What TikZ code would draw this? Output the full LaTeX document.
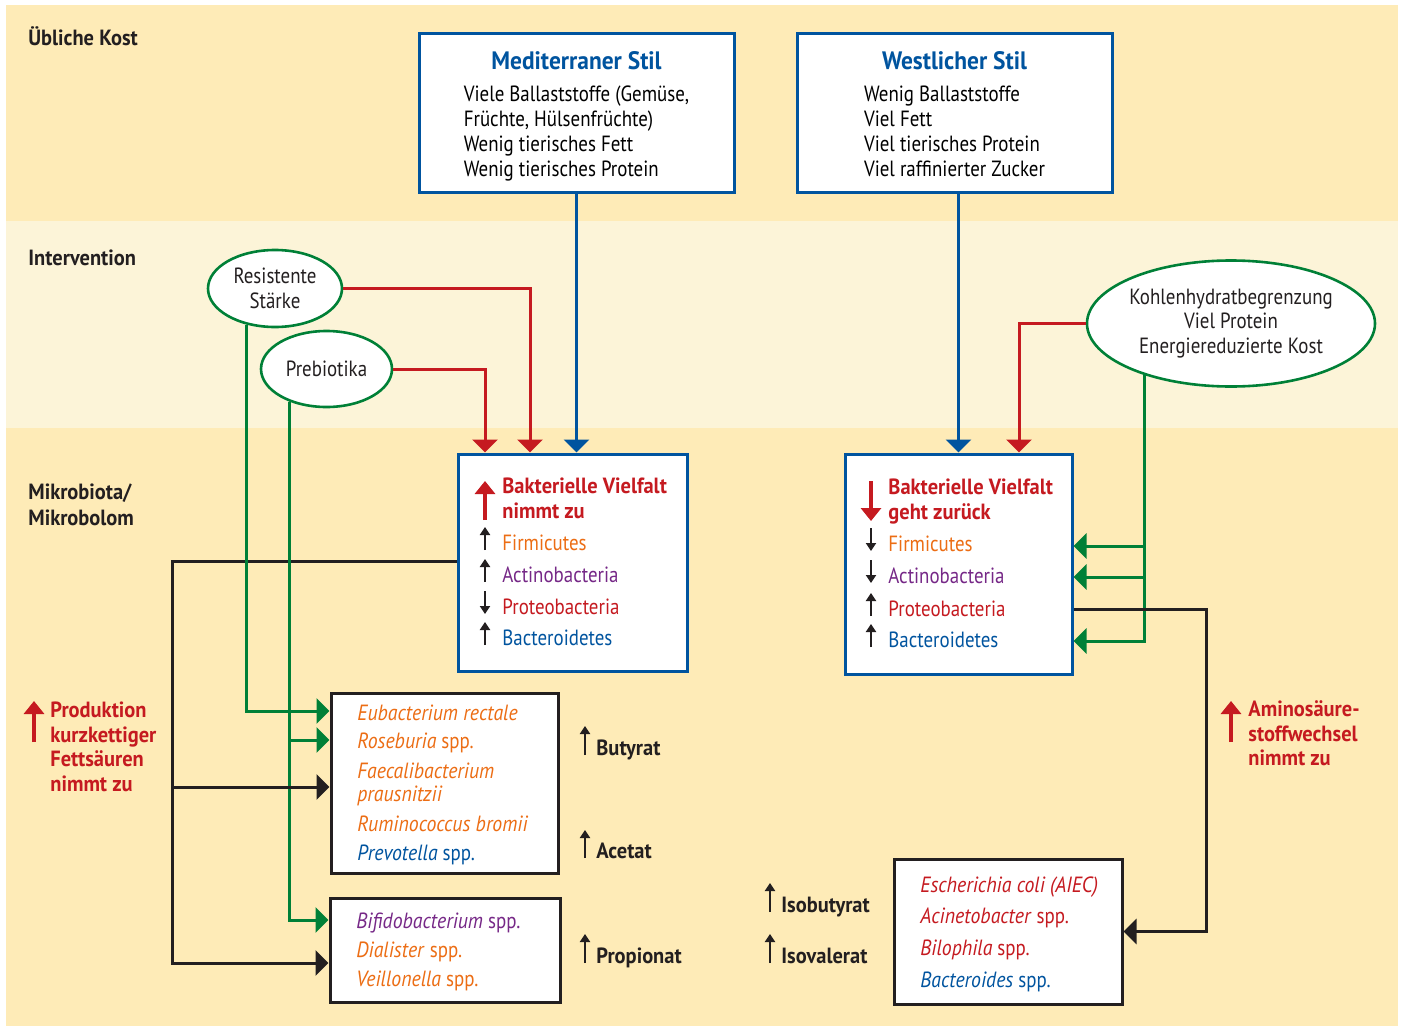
\documentclass[tikz,border=0pt]{standalone}
\usepackage{fontspec}
\setmainfont{PT Sans}[
  UprightFeatures={FakeStretch=0.86},
  BoldFeatures={FakeStretch=0.93},
  ItalicFeatures={FakeStretch=0.9},
  BoldItalicFeatures={FakeStretch=0.93}]
\usepackage{tikz}
\usetikzlibrary{positioning,shapes.geometric,arrows.meta}

\definecolor{kblue}{RGB}{0,84,159}
\definecolor{kred}{RGB}{197,26,32}
\definecolor{korange}{RGB}{236,109,20}
\definecolor{kpurple}{RGB}{118,40,135}
\definecolor{kgreen}{RGB}{0,128,55}
\definecolor{kband}{RGB}{254,235,183}
\definecolor{klight}{RGB}{252,244,216}
\definecolor{ktext}{RGB}{35,31,32}

\begin{document}
\begin{tikzpicture}[x=0.5pt,y=-0.5pt,
font=\fontsize{11}{12.4}\selectfont,
box/.style={draw=kblue,line width=1.5pt,fill=white,inner sep=0pt},
sbox/.style={draw=ktext,line width=1.5pt,fill=white,inner sep=0pt},
oval/.style={ellipse,draw=kgreen,line width=1.3pt,fill=white,inner sep=0pt,align=center,text=ktext},
txt/.style={anchor=base west,inner sep=0pt,text=ktext},
hot/.style={txt,text=kred,font=\fontsize{11}{12.4}\selectfont\bfseries},
sect/.style={txt,font=\fontsize{11}{12.4}\selectfont\bfseries},
conn/.style={line width=1.5pt,-{Triangle[length=6.5pt,width=12.5pt]}},
trend/.style={line width=1.1pt,ktext,-{Triangle[length=4pt,width=5pt]}},
bigtrend/.style={line width=2.2pt,kred,-{Triangle[length=6.5pt,width=10pt]}}]

\useasboundingbox (0,0) rectangle (1403,1028);
\fill[white] (0,0) rectangle (1403,1028);
\fill[kband] (6,5) rectangle (1398,221);
\fill[klight] (6,221) rectangle (1398,428);
\fill[kband] (6,428) rectangle (1398,1026);

% row labels
\node (lkost) [sect] at (28,46) {Übliche Kost};
\node (linter) [sect] at (28,265) {Intervention};
\node (lmikro) [sect] at (28,499) {Mikrobiota/};
\node (lmikro2) [sect] at (28,525) {Mikrobolom};

% diets
\node (med) [box,minimum width=157.5pt,minimum height=79.5pt] at (576.5,112.5) {%
\begin{tabular}{@{}l@{}}
\multicolumn{1}{@{}c@{}}{\rule{0pt}{14pt}\textcolor{kblue}{\fontsize{12.6}{15}\selectfont\bfseries Mediterraner Stil}}\\[4pt]
Viele Ballaststoffe (Gemüse,\\
Früchte, Hülsenfrüchte)\\
Wenig tierisches Fett\\
Wenig tierisches Protein
\end{tabular}};
\node (west) [box,minimum width=157.5pt,minimum height=79.5pt] at (954.5,112.5) {%
\begin{tabular}{@{}l@{}}
\multicolumn{1}{@{}c@{}}{\rule{0pt}{14pt}\textcolor{kblue}{\fontsize{12.6}{15}\selectfont\bfseries Westlicher Stil}}\\[4pt]
Wenig Ballaststoffe\\
Viel Fett\\
Viel tierisches Protein\\
Viel raffinierter Zucker
\end{tabular}};

% interventions
\node (resist) [oval,minimum width=67pt,minimum height=38.5pt] at (275,288.5) {Resistente\\Stärke};
\node (prebio) [oval,minimum width=65.5pt,minimum height=38pt] at (326.5,369) {Prebiotika};
\node (kohlen) [oval,minimum width=144pt,minimum height=63pt] at (1231,323.5)
  {Kohlenhydratbegrenzung\\Viel Protein\\Energiereduzierte Kost};

% microbiota
\node (upbox) [box,minimum width=114.5pt,minimum height=108.5pt] at (572.5,562.5) {};
\node (dnbox) [box,minimum width=113.5pt,minimum height=110pt] at (958.5,564) {};
\node (butbox) [sbox,minimum width=113.5pt,minimum height=90pt] at (444.5,783) {};
\node (propbox) [sbox,minimum width=115pt,minimum height=52pt] at (445,950) {};
\node (aminobox) [sbox,minimum width=114pt,minimum height=72.5pt] at (1008,931.5) {};

\node (upt1) [hot] at (502,493) {Bakterielle Vielfalt};
\node (upt2) [hot] at (502,518) {nimmt zu};
\node (upf) [txt,text=korange] at (502,550) {Firmicutes};
\node (upa) [txt,text=kpurple] at (502,582) {Actinobacteria};
\node (upp) [txt,text=kred] at (502,614) {Proteobacteria};
\node (upb) [txt,text=kblue] at (502,645) {Bacteroidetes};
\draw[bigtrend] (485,520) -- (485,481);
\draw[trend] (485,550) -- (485,527);
\draw[trend] (485,582) -- (485,559);
\draw[trend] (485,591) -- (485,614);
\draw[trend] (485,645) -- (485,622);

\node (dnt1) [hot] at (888,494) {Bakterielle Vielfalt};
\node (dnt2) [hot] at (888,519) {geht zurück};
\node (dnf) [txt,text=korange] at (888,551) {Firmicutes};
\node (dna) [txt,text=kpurple] at (888,583) {Actinobacteria};
\node (dnp) [txt,text=kred] at (888,616) {Proteobacteria};
\node (dnb) [txt,text=kblue] at (888,647) {Bacteroidetes};
\draw[bigtrend] (871,481) -- (871,521);
\draw[trend] (871,528) -- (871,551);
\draw[trend] (871,560) -- (871,583);
\draw[trend] (871,616) -- (871,593);
\draw[trend] (871,647) -- (871,624);

\node (eub) [txt,text=korange] at (357,720) {\itshape Eubacterium rectale};
\node (ros) [txt,text=korange] at (357,748) {\textit{Roseburia} spp.};
\node (fae) [txt,text=korange] at (357,778) {\itshape Faecalibacterium};
\node (fae2) [txt,text=korange] at (357,801) {\itshape prausnitzii};
\node (rum) [txt,text=korange] at (357,831) {\itshape Ruminococcus bromii};
\node (pre) [txt,text=kblue] at (357,860) {\textit{Prevotella} spp.};

\node (bif) [txt,text=kpurple] at (356,928) {\textit{Bifidobacterium} spp.};
\node (dia) [txt,text=korange] at (356,957) {\textit{Dialister} spp.};
\node (vei) [txt,text=korange] at (356,986) {\textit{Veillonella} spp.};

\node (esc) [txt,text=kred] at (920,892) {\itshape Escherichia coli (AIEC)};
\node (aci) [txt,text=kred] at (920,923) {\textit{Acinetobacter} spp.};
\node (bil) [txt,text=kred] at (920,955) {\textit{Bilophila} spp.};
\node (bac) [txt,text=kblue] at (920,987) {\textit{Bacteroides} spp.};

% products
\node (buty) [sect] at (596,755) {Butyrat};
\node (acet) [sect] at (596,858) {Acetat};
\node (prop) [sect] at (596,963) {Propionat};
\node (isob) [sect] at (781,912) {Isobutyrat};
\node (isov) [sect] at (781,963) {Isovalerat};
\draw[trend] (585,755) -- (585,726);
\draw[trend] (585,858) -- (585,830);
\draw[trend] (585,963) -- (585,934);
\draw[trend] (770,912) -- (770,883);
\draw[trend] (770,963) -- (770,934);

\node (prod1) [hot] at (50,717) {Produktion};
\node (prod2) [hot] at (50,742) {kurzkettiger};
\node (prod3) [hot] at (50,766) {Fettsäuren};
\node (prod4) [hot] at (50,791) {nimmt zu};
\draw[bigtrend,line width=2pt] (34,742) -- (34,701);
\node (amino1) [hot] at (1248,716) {Aminosäure-};
\node (amino2) [hot] at (1248,741) {stoffwechsel};
\node (amino3) [hot] at (1248,765) {nimmt zu};
\draw[bigtrend,line width=2pt] (1231,742) -- (1231,701);

% connectors
\coordinate (b1) at ([yshift=36pt]butbox.west);
\coordinate (b2) at ([yshift=21.5pt]butbox.west);
\coordinate (b3) at ([yshift=-2pt]butbox.west);
\coordinate (p1) at ([yshift=15pt]propbox.west);
\coordinate (p2) at ([yshift=-6.5pt]propbox.west);
\coordinate (d1) at ([yshift=9pt]dnbox.east);
\coordinate (d2) at ([yshift=-6.5pt]dnbox.east);
\coordinate (d3) at ([yshift=-38.5pt]dnbox.east);
\coordinate (d4) at ([yshift=-22.5pt]dnbox.east);
\coordinate (lbus) at (172,561);
\coordinate (rbus) at (1206,609);

\draw[conn,kblue] (med.south) -- (med.south |- upbox.north);
\draw[conn,kblue] (west.south -| dnbox.north) -- (dnbox.north);
\draw[conn,kred] (resist.east) -| ([xshift=-21.25pt]upbox.north);
\draw[conn,kred] (prebio.east) -| ([xshift=-43.75pt]upbox.north);
\draw[conn,kred] (kohlen.west) -| ([xshift=30.25pt]dnbox.north);

\draw[conn,ktext] (upbox.west |- lbus) -- (lbus) |- (p2);
\draw[conn,kgreen] (resist.232.5) |- (b1);
\draw[conn,kgreen] (prebio.221) |- (p1);
\draw[conn,kgreen] (prebio.221 |- b2) -- (b2);
\draw[conn,ktext] (lbus |- b3) -- (b3);

\draw[conn,kgreen] (kohlen.211) |- (d3);
\draw[conn,kgreen] (kohlen.211 |- d1) -- (d1);
\draw[conn,kgreen] (kohlen.211 |- d2) -- (d2);
\draw[conn,ktext] (d4) -- (rbus) |- (aminobox.east);
\end{tikzpicture}
\end{document}
